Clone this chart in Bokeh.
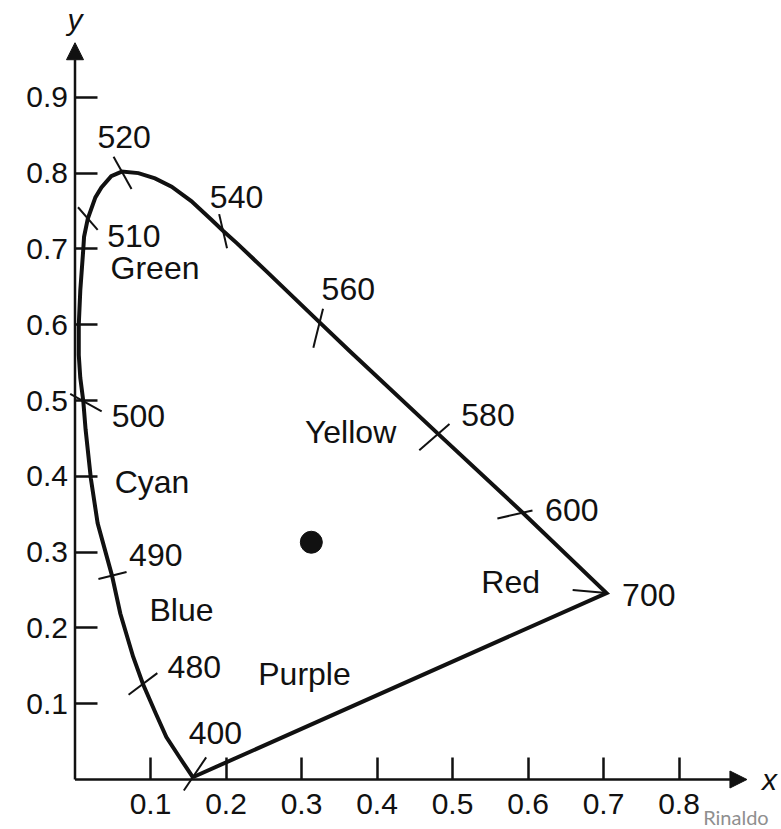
import math
from bokeh.plotting import figure
from bokeh.models import Range1d, FixedTicker, Arrow, NormalHead, Label
from bokeh.core.properties import value
from bokeh.embed import file_html
from bokeh.resources import INLINE

# ---- data (CIE x, y chromaticity) ----
# spectral locus, from 400 nm up over 520 nm down to 700 nm
locus_x = [0.156, 0.138, 0.121, 0.107, 0.090, 0.077, 0.060, 0.049, 0.030, 0.021,
           0.014, 0.011, 0.007, 0.005, 0.005, 0.007, 0.011, 0.012, 0.017, 0.027,
           0.035, 0.048, 0.062, 0.084, 0.106, 0.128, 0.154, 0.180, 0.196, 0.215,
           0.254, 0.324, 0.363, 0.481, 0.593, 0.704]
locus_y = [0.003, 0.030, 0.056, 0.087, 0.126, 0.162, 0.219, 0.269, 0.338, 0.397,
           0.462, 0.499, 0.530, 0.560, 0.600, 0.645, 0.700, 0.716, 0.740, 0.768,
           0.781, 0.796, 0.802, 0.800, 0.793, 0.782, 0.763, 0.739, 0.724, 0.707,
           0.670, 0.603, 0.566, 0.456, 0.352, 0.246]

# wavelength marks on the locus
mark_nm = ["400", "480", "490", "500", "510", "520", "540", "560", "580", "600", "700"]
mark_x = [0.156, 0.090, 0.049, 0.011, 0.017, 0.062, 0.196, 0.324, 0.481, 0.593, 0.704]
mark_y = [0.003, 0.126, 0.269, 0.499, 0.740, 0.802, 0.724, 0.603, 0.456, 0.352, 0.246]
mark_label_x = [0.186, 0.158, 0.107, 0.084, 0.078, 0.065, 0.214, 0.362, 0.547, 0.658, 0.760]
mark_label_y = [0.062, 0.148, 0.296, 0.480, 0.717, 0.847, 0.769, 0.647, 0.481, 0.355, 0.244]

# region names
region_names = ["Green", "Cyan", "Blue", "Yellow", "Red", "Purple"]
region_x = [0.106, 0.102, 0.141, 0.365, 0.577, 0.304]
region_y = [0.675, 0.393, 0.224, 0.458, 0.260, 0.139]

# white point
white_x = [0.313]
white_y = [0.313]

x_ticks = [0.1, 0.2, 0.3, 0.4, 0.5, 0.6, 0.7, 0.8]
y_ticks = [0.1, 0.2, 0.3, 0.4, 0.5, 0.6, 0.7, 0.8, 0.9]
x_tick_labels = ["0.1", "0.2", "0.3", "0.4", "0.5", "0.6", "0.7", "0.8"]
y_tick_labels = ["0.1", "0.2", "0.3", "0.4", "0.5", "0.6", "0.7", "0.8", "0.9"]

# ---- styling of the little wavelength tick strokes (screen px / degrees) ----
tick_angle = [56, 37, 14, -29, -49, -61, -77, 76, 41, 13, 175]
tick_fwd = [24, 18, 15, 21, 15, 20, 18, 14, 15, 10, 34]
tick_back = [16, 18, 14, 15, 15, 17, 17, 26, 25, 26, 0]

FONT = "Liberation Sans"
INK = "#111111"
W, H = 781, 829
ORIGIN_X, ORIGIN_Y = 74.5, 779.0      # origin position on the canvas (px)
px_x, px_y = 755.0, 758.0             # pixels per unit
x_range = Range1d(-ORIGIN_X / px_x, (W - ORIGIN_X) / px_x)
y_range = Range1d(-(H - ORIGIN_Y) / px_y, ORIGIN_Y / px_y)

p = figure(width=W, height=H, x_range=x_range, y_range=y_range,
           output_backend="svg", toolbar_location=None, min_border=0)
p.grid.visible = False
p.outline_line_color = None
p.background_fill_color = "white"
p.border_fill_color = "white"

for ax, ticks, labels in ((p.xaxis[0], x_ticks, x_tick_labels), (p.yaxis[0], y_ticks, y_tick_labels)):
    ax.fixed_location = 0
    ax.ticker = FixedTicker(ticks=ticks)
    ax.major_label_overrides = {t: l for t, l in zip(ticks, labels)}
    ax.axis_line_color = None
    ax.major_tick_in = 22
    ax.major_tick_out = 0
    ax.major_tick_line_width = 2.5
    ax.major_tick_line_color = INK
    ax.minor_tick_line_color = None
    ax.major_label_text_font = FONT
    ax.major_label_text_font_size = "30px"
    ax.major_label_text_color = INK
p.xaxis.major_label_standoff = 14
p.yaxis.major_label_standoff = 7

# axis arrows
p.add_layout(Arrow(end=NormalHead(size=17, fill_color=INK, line_color=INK),
                   x_start=0, y_start=0, x_end=0.89, y_end=0,
                   line_width=2.5, line_color=INK))
p.add_layout(Arrow(end=NormalHead(size=17, fill_color=INK, line_color=INK),
                   x_start=0, y_start=0, x_end=0, y_end=0.972,
                   line_width=2.5, line_color=INK))

# spectral locus closed by the purple line
p.line(locus_x + [locus_x[0]], locus_y + [locus_y[0]], line_width=4,
       line_color=INK, line_join="miter")

# wavelength tick strokes
x0, y0, x1, y1 = [], [], [], []
for mx, my, a, f, b in zip(mark_x, mark_y, tick_angle, tick_fwd, tick_back):
    r = math.radians(a)
    x0.append(mx - b * math.cos(r) / px_x)
    y0.append(my - b * math.sin(r) / px_y)
    x1.append(mx + f * math.cos(r) / px_x)
    y1.append(my + f * math.sin(r) / px_y)
p.segment(x0=x0, y0=y0, x1=x1, y1=y1, line_width=2, line_color=INK)

p.text(x=mark_label_x, y=mark_label_y, text=mark_nm, text_font=value(FONT),
       text_font_size="32px", text_align="center", text_baseline="middle", text_color=INK)
p.text(x=region_x, y=region_y, text=region_names, text_font=value(FONT),
       text_font_size="32px", text_align="center", text_baseline="middle", text_color=INK)

p.scatter(white_x, white_y, size=22, color=INK)

p.add_layout(Label(x=0.0, y=1.003, text="y", text_font=FONT, text_font_size="30px",
                   text_font_style="italic", text_align="center", text_baseline="middle",
                   text_color=INK))
p.add_layout(Label(x=0.92, y=0.0, text="x", text_font=FONT, text_font_size="30px",
                   text_font_style="italic", text_align="center", text_baseline="middle",
                   text_color=INK))
p.add_layout(Label(x=0.832, y=-0.0495, text="Rinaldo", text_font="Lato", text_font_size="20px",
                   text_align="left", text_baseline="middle", text_color="#8f8f8f"))

open("out.html", "w").write(file_html(p, INLINE))
